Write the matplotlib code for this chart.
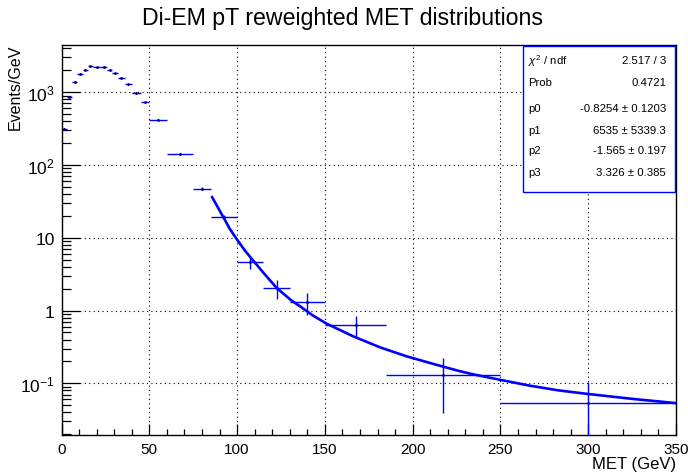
import numpy as np
import matplotlib
matplotlib.use('Agg')
import matplotlib.pyplot as plt
from matplotlib.patches import Rectangle
from matplotlib.ticker import MultipleLocator, FixedLocator, LogLocator, NullFormatter

# bin edges (GeV) and contents (Events/GeV)
bin_edges = [0, 3, 6, 9, 12, 15, 18, 22, 26, 29, 32, 36, 40, 45, 50,
             60, 75, 85, 100, 115, 130, 150, 185, 250, 350]
counts = [311, 871, 1400, 1787, 2048, 2280, 2208, 2252, 2048, 1828, 1575,
          1290, 979, 730, 421, 143.6, 46.9, 19.2, 4.61, 2.05, 1.30, 0.64,
          0.1315, 0.0532]
errors = [12, 20, 25, 28, 30, 32, 28, 28, 30, 28, 25, 22, 17, 14, 7, 3.5,
          2.3, 1.2, 0.85, 0.6, 0.44, 0.21, 0.093, 0.050]

# fit curve, points
fit_x = [85.8, 89.3, 92.7, 95.9, 99.7, 104.5, 109.2, 114.0, 117.7, 122.5,
         131.0, 135.8, 143.3, 151.0, 166.1, 181.3, 196.5, 211.7, 226.8,
         234.4, 249.6, 266.7, 283.0, 299.9, 325.5, 349.3]
fit_y = [36.1, 25.5, 18.2, 13.2, 9.65, 6.66, 4.85, 3.53, 2.78, 2.05,
         1.37, 1.146, 0.851, 0.66, 0.443, 0.313, 0.235, 0.185, 0.147,
         0.133, 0.112, 0.0929, 0.080, 0.0714, 0.0610, 0.0537]

# stats box
stat_names = [r'$\chi^{2}$ / ndf', 'Prob', 'p0', 'p1', 'p2', 'p3']
stat_values = ['2.517 / 3', '0.4721', '-0.8254 \u00b1 0.1203', '6535 \u00b1 5339.3',
               '-1.565 \u00b1 0.197', '3.326 \u00b1 0.385']

plt.rcParams['font.family'] = ['Liberation Sans', 'DejaVu Sans']
plt.rcParams['mathtext.fontset'] = 'custom'
plt.rcParams['mathtext.rm'] = 'Liberation Sans'
plt.rcParams['mathtext.it'] = 'Liberation Sans:italic'
plt.rcParams['mathtext.bf'] = 'Liberation Sans:bold'

W, H = 688, 477
fig = plt.figure(figsize=(W / 100, H / 100), dpi=100)
ax = fig.add_axes([61.5 / W, 1 - 436 / H, 614.5 / W, 390 / H])

edges = np.array(bin_edges, dtype=float)
centers = 0.5 * (edges[:-1] + edges[1:])
half = 0.5 * (edges[1:] - edges[:-1])

ax.errorbar(centers, counts, xerr=half, yerr=errors, fmt='none',
            ecolor='#0000ff', elinewidth=1.0, capsize=0, zorder=3)
ax.plot(centers, counts, '.', color='#000080', ms=2, zorder=4)
ax.plot(fit_x, fit_y, color='#0000ff', lw=1.9, zorder=5)

ax.set_yscale('log')
ax.set_xlim(0, 350)
ax.set_ylim(0.0195, 4450)

ax.xaxis.set_major_locator(MultipleLocator(50))
ax.xaxis.set_minor_locator(MultipleLocator(10))
ax.yaxis.set_major_locator(FixedLocator([0.1, 1, 10, 100, 1000]))
ax.set_yticklabels(['$10^{-1}$', '1', '10', '$10^{2}$', '$10^{3}$'])
ax.yaxis.set_minor_locator(LogLocator(subs=range(2, 10), numticks=20))
ax.yaxis.set_minor_formatter(NullFormatter())

ax.tick_params(axis='x', which='major', direction='in', length=8, width=0.9,
               labelsize=11, pad=5)
ax.tick_params(axis='x', which='minor', direction='in', length=4, width=0.9)
ax.tick_params(axis='y', which='major', direction='in', length=13, width=0.9,
               labelsize=12.5, pad=5)
ax.tick_params(axis='y', which='minor', direction='in', length=6.5, width=0.9)
for s in ax.spines.values():
    s.set_linewidth(1.0)

ax.grid(True, which='major', color='black', linestyle=(0, (1, 3)), linewidth=0.8)

fig.text(343 / W, 1 - 18 / H, 'Di-EM pT reweighted MET distributions',
         ha='center', va='center', fontsize=16.7)
fig.text(15 / W, 1 - 45 / H, 'Events/GeV', rotation=90, ha='center', va='top',
         fontsize=11.5)
fig.text(676 / W, 1 - 465 / H, 'MET (GeV)', ha='right', va='center',
         fontsize=12)

# stats box
fig.add_artist(Rectangle((523 / W, 1 - 193 / H), 152 / W, 146 / H,
                         transform=fig.transFigure, facecolor='white',
                         edgecolor='#0000ff', lw=1.0, zorder=10))
rows_y = [61, 83, 108.5, 130.5, 151, 173.5]
for name, val, yy in zip(stat_names, stat_values, rows_y):
    fig.text(528 / W, 1 - yy / H, name, ha='left', va='center', fontsize=8.2,
             zorder=11)
    fig.text(666 / W, 1 - yy / H, val, ha='right', va='center', fontsize=8.2,
             zorder=11)

fig.savefig('out.png', dpi=100)
